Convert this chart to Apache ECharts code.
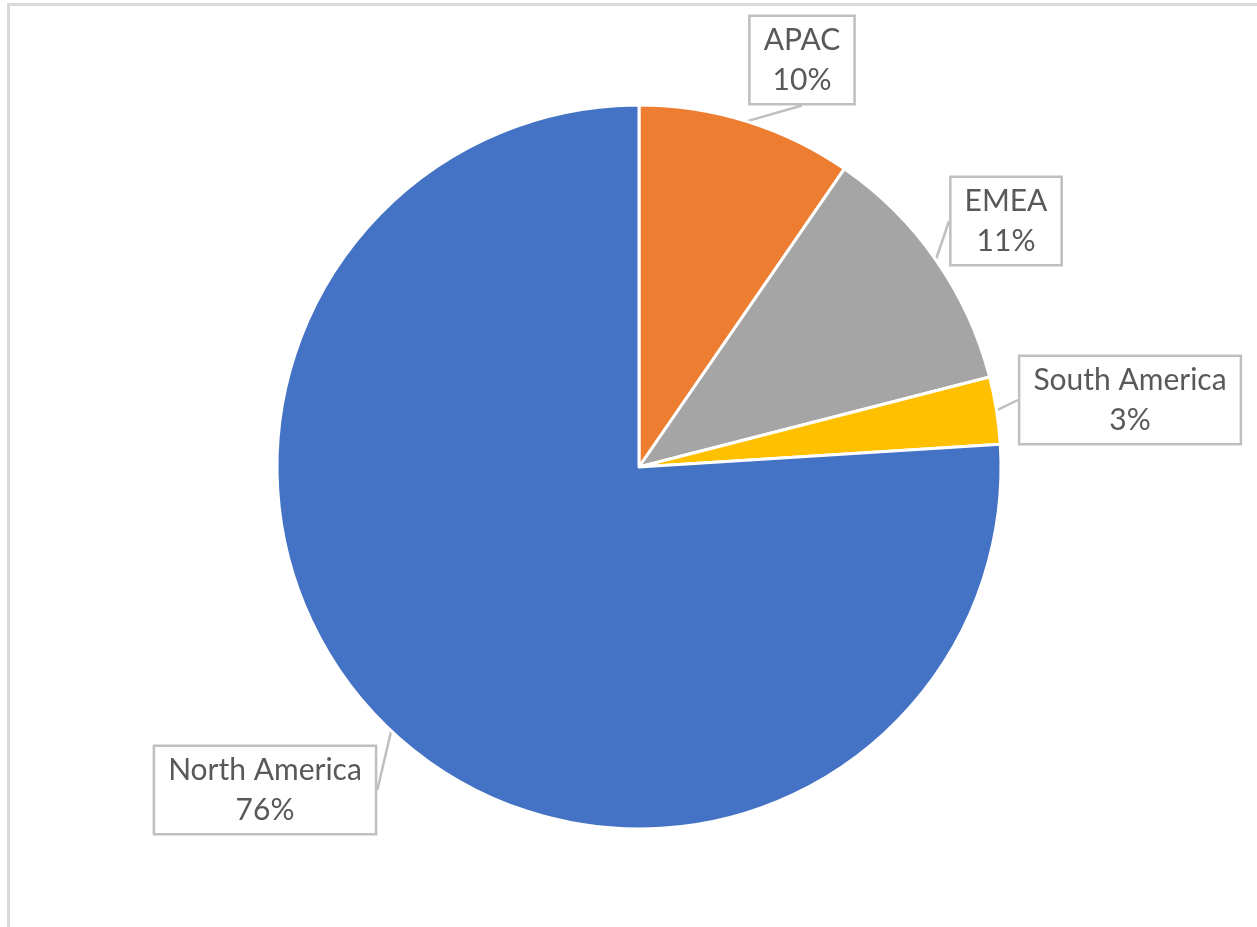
<!DOCTYPE html>
<html>
<head>
<meta charset="utf-8">
<script src="https://cdn.jsdelivr.net/npm/echarts@6/dist/echarts.min.js"></script>
<style>
    html, body { margin: 0; padding: 0; background: #fff; }
    #frame {
        position: absolute; left: 7px; top: 3px; right: -10px; bottom: -10px;
        border-left: 3px solid #d9d9d9; border-top: 3px solid #d9d9d9;
    }
    #main { position: absolute; left: 0; top: 0; width: 1257px; height: 927px; }
</style>
</head>
<body>
<div id="frame"></div>
<div id="main"></div>
<script>
// regions, clockwise from 12 o'clock
const regions = ['APAC', 'EMEA', 'South America', 'North America'];
const shares = [9.6, 11.4, 3.0, 76.0];
const colors = ['#ED7D31', '#A5A5A5', '#FFC000', '#4472C4'];

// where each callout box sits (centre, px)
const labelSpots = [[802, 60], [1006, 221], [1130, 400], [265, 790]];

const chart = echarts.init(document.getElementById('main'), null, { renderer: 'canvas' });

const option = {
    animation: false,
    series: [{
        type: 'pie',
        center: [639, 467],
        radius: 362,
        startAngle: 90,
        data: regions.map(function (name, i) {
            return { name: name, value: shares[i], itemStyle: { color: colors[i] } };
        }),
        itemStyle: { borderColor: '#fff', borderWidth: 3 },
        label: {
            show: true,
            position: 'outside',
            formatter: function (p) {
                return p.name + '\n' + Math.round(p.percent) + '%';
            },
            fontFamily: 'Lato',
            fontSize: 30,
            lineHeight: 40,
            color: '#595959',
            align: 'center',
            backgroundColor: '#fff',
            borderColor: '#bfbfbf',
            borderWidth: 2.5,
            padding: [4, 13, 2, 13]
        },
        labelLine: {
            show: true,
            length: 10,
            length2: 0,
            lineStyle: { color: '#bfbfbf', width: 2.5 }
        },
        labelLayout: function (params) {
            const spot = labelSpots[params.dataIndex];
            return {
                x: spot[0],
                y: spot[1],
                align: 'center',
                verticalAlign: 'middle'
            };
        },
        emphasis: { disabled: true }
    }]
};

chart.setOption(option);
</script>
</body>
</html>
